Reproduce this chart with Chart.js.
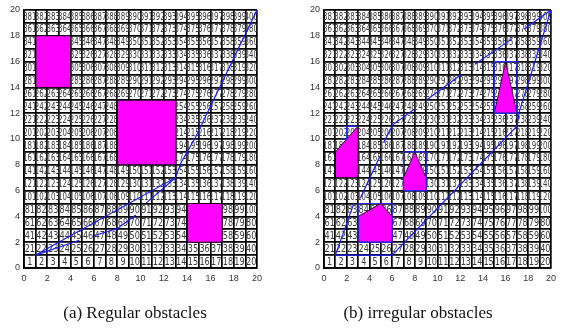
<!DOCTYPE html>
<html lang="en">
<head>
    <meta charset="UTF-8">
    <title>Path planning with obstacles</title>
    <script src="https://cdn.jsdelivr.net/npm/chart.js"></script>
    <style>
        body { margin: 0; background: #fff; }
        .wrap { position: relative; width: 561px; height: 328px; }
        .wrap canvas { position: absolute; left: 0; top: 0; }
        .cap { position: absolute; top: 303px; font-family: 'Liberation Serif', 'Times New Roman', serif;
               font-size: 17px; color: #111; white-space: nowrap; transform: translateX(-50%); }
    </style>
</head>
<body>
    <div class="wrap">
        <canvas id="chartA" width="561" height="328"></canvas>
        <canvas id="chartB" width="561" height="328"></canvas>
        <div class="cap" style="left:135px">(a) Regular obstacles</div>
        <div class="cap" style="left:418px">(b) irregular obstacles</div>
    </div>

    <script>
        // grid size (cells numbered 1..400 from bottom-left, row by row)
        const cols = 20, rows = 20;
        const tickValues = [0, 2, 4, 6, 8, 10, 12, 14, 16, 18, 20];

        // (a) regular obstacles
        const obstaclesA = [
            [[1, 14], [4, 14], [4, 18], [1, 18]],
            [[8, 8], [13, 8], [13, 13], [8, 13]],
            [[14, 2], [17, 2], [17, 5], [14, 5]]
        ];
        const pathsA = [
            [[1, 1], [4.75, 2.15]],
            [[1, 1], [13, 7], [13.5, 8.2], [14.7, 10.1], [20, 20]],
            [[6, 2.5], [8, 3.05], [9.6, 4.1]],
            [[10.5, 5.05], [13, 7]]
        ];

        // (b) irregular obstacles
        const obstaclesB = [
            [[1, 7], [3, 7], [3, 11], [1, 9]],
            [[3, 2], [6, 2], [6, 4], [5, 5], [3, 4]],
            [[7, 6], [9, 6], [9, 7], [8, 9], [7, 7]],
            [[15, 12], [17, 12], [16, 16]]
        ];
        const boxesB = [
            [[1.5, 10], [2, 10], [2, 11], [3, 11]],
            [[3, 2], [6, 2], [6, 5], [3, 5], [3, 2]],
            [[7, 6], [9, 6], [9, 9], [7, 9], [7, 6]],
            [[15, 12], [17, 12], [17, 16], [15, 16], [15, 12]]
        ];
        const pathsB = [
            [[1, 1], [6, 1], [17, 11], [17.2, 12.1], [20, 20]],
            [[1, 1], [2.65, 5.05]],
            [[3.2, 5.4], [4.9, 8.6]],
            [[5.25, 9.7], [6.05, 11.1], [7.95, 12.3]],
            [[9, 13], [12.1, 15]],
            [[13.3, 15.8], [16.6, 17.8]],
            [[17.6, 18.5], [20, 20]]
        ];

        const toXY = pts => pts.map(p => ({x: p[0], y: p[1]}));

        // cell numbers, drawn under the obstacles (squeezed like the original)
        const cellNumbers = {
            id: 'cellNumbers',
            beforeDatasetsDraw(chart) {
                const {ctx, scales: {x, y}} = chart;
                ctx.save();
                ctx.fillStyle = '#3a3a3a';
                ctx.font = '10px "Liberation Sans Narrow", "DejaVu Sans Condensed", sans-serif';
                ctx.textAlign = 'center';
                ctx.textBaseline = 'middle';
                for (let r = 0; r < rows; r++) {
                    for (let c = 0; c < cols; c++) {
                        const n = r * cols + c + 1;
                        ctx.save();
                        ctx.translate(x.getPixelForValue(c + 0.5), y.getPixelForValue(r + 0.5) + 0.5);
                        ctx.scale(n > 99 ? 0.78 : 0.9, 1);
                        ctx.fillText(String(n), 0, 0);
                        ctx.restore();
                    }
                }
                ctx.restore();
            }
        };

        function makeDatasets(obstacles, boxes, paths) {
            const ds = [];
            paths.forEach(p => ds.push({
                data: toXY(p), showLine: true, borderColor: '#1a1aff', borderWidth: 1.2,
                pointRadius: 0, fill: false, order: 0
            }));
            boxes.forEach(p => ds.push({
                data: toXY(p), showLine: true, borderColor: '#2a2aff', borderWidth: 1.2,
                pointRadius: 0, fill: false, order: 1
            }));
            obstacles.forEach(p => ds.push({
                data: toXY(p.concat([p[0]])), showLine: true, borderColor: '#000', borderWidth: 0.8,
                backgroundColor: '#ff00ff', pointRadius: 0, fill: 'shape', order: 2
            }));
            return ds;
        }

        function makeChart(id, datasets, padLeft, padRight) {
            const axisFont = {family: '"Liberation Sans Narrow", "Liberation Sans", sans-serif', size: 9};
            return new Chart(document.getElementById(id), {
                type: 'scatter',
                data: {datasets: datasets},
                options: {
                    responsive: false,
                    animation: false,
                    layout: {padding: {left: padLeft, right: padRight, top: 10, bottom: 38}},
                    plugins: {legend: {display: false}, tooltip: {enabled: false}},
                    scales: {
                        x: {
                            type: 'linear', min: 0, max: 20,
                            afterFit: s => { s.height = 22; },
                            grid: {color: '#000', lineWidth: 1.7, drawTicks: false},
                            border: {color: '#000', width: 1.7},
                            ticks: {
                                stepSize: 1, autoSkip: false, maxRotation: 0, padding: 5,
                                color: '#333', font: axisFont,
                                callback: v => tickValues.includes(v) ? String(v) : ''
                            }
                        },
                        y: {
                            type: 'linear', min: 0, max: 20,
                            afterFit: s => { s.width = 24; },
                            grid: {color: '#000', lineWidth: 1.7, drawTicks: false},
                            border: {color: '#000', width: 1.7},
                            ticks: {
                                stepSize: 1, autoSkip: false, padding: 4,
                                color: '#333', font: axisFont,
                                callback: v => tickValues.includes(v) ? String(v) : ''
                            }
                        }
                    }
                },
                plugins: [cellNumbers]
            });
        }

        makeChart('chartA', makeDatasets(obstaclesA, [], pathsA), 0, 304);
        makeChart('chartB', makeDatasets(obstaclesB, boxesB, pathsB), 300, 4);
    </script>
</body>
</html>
